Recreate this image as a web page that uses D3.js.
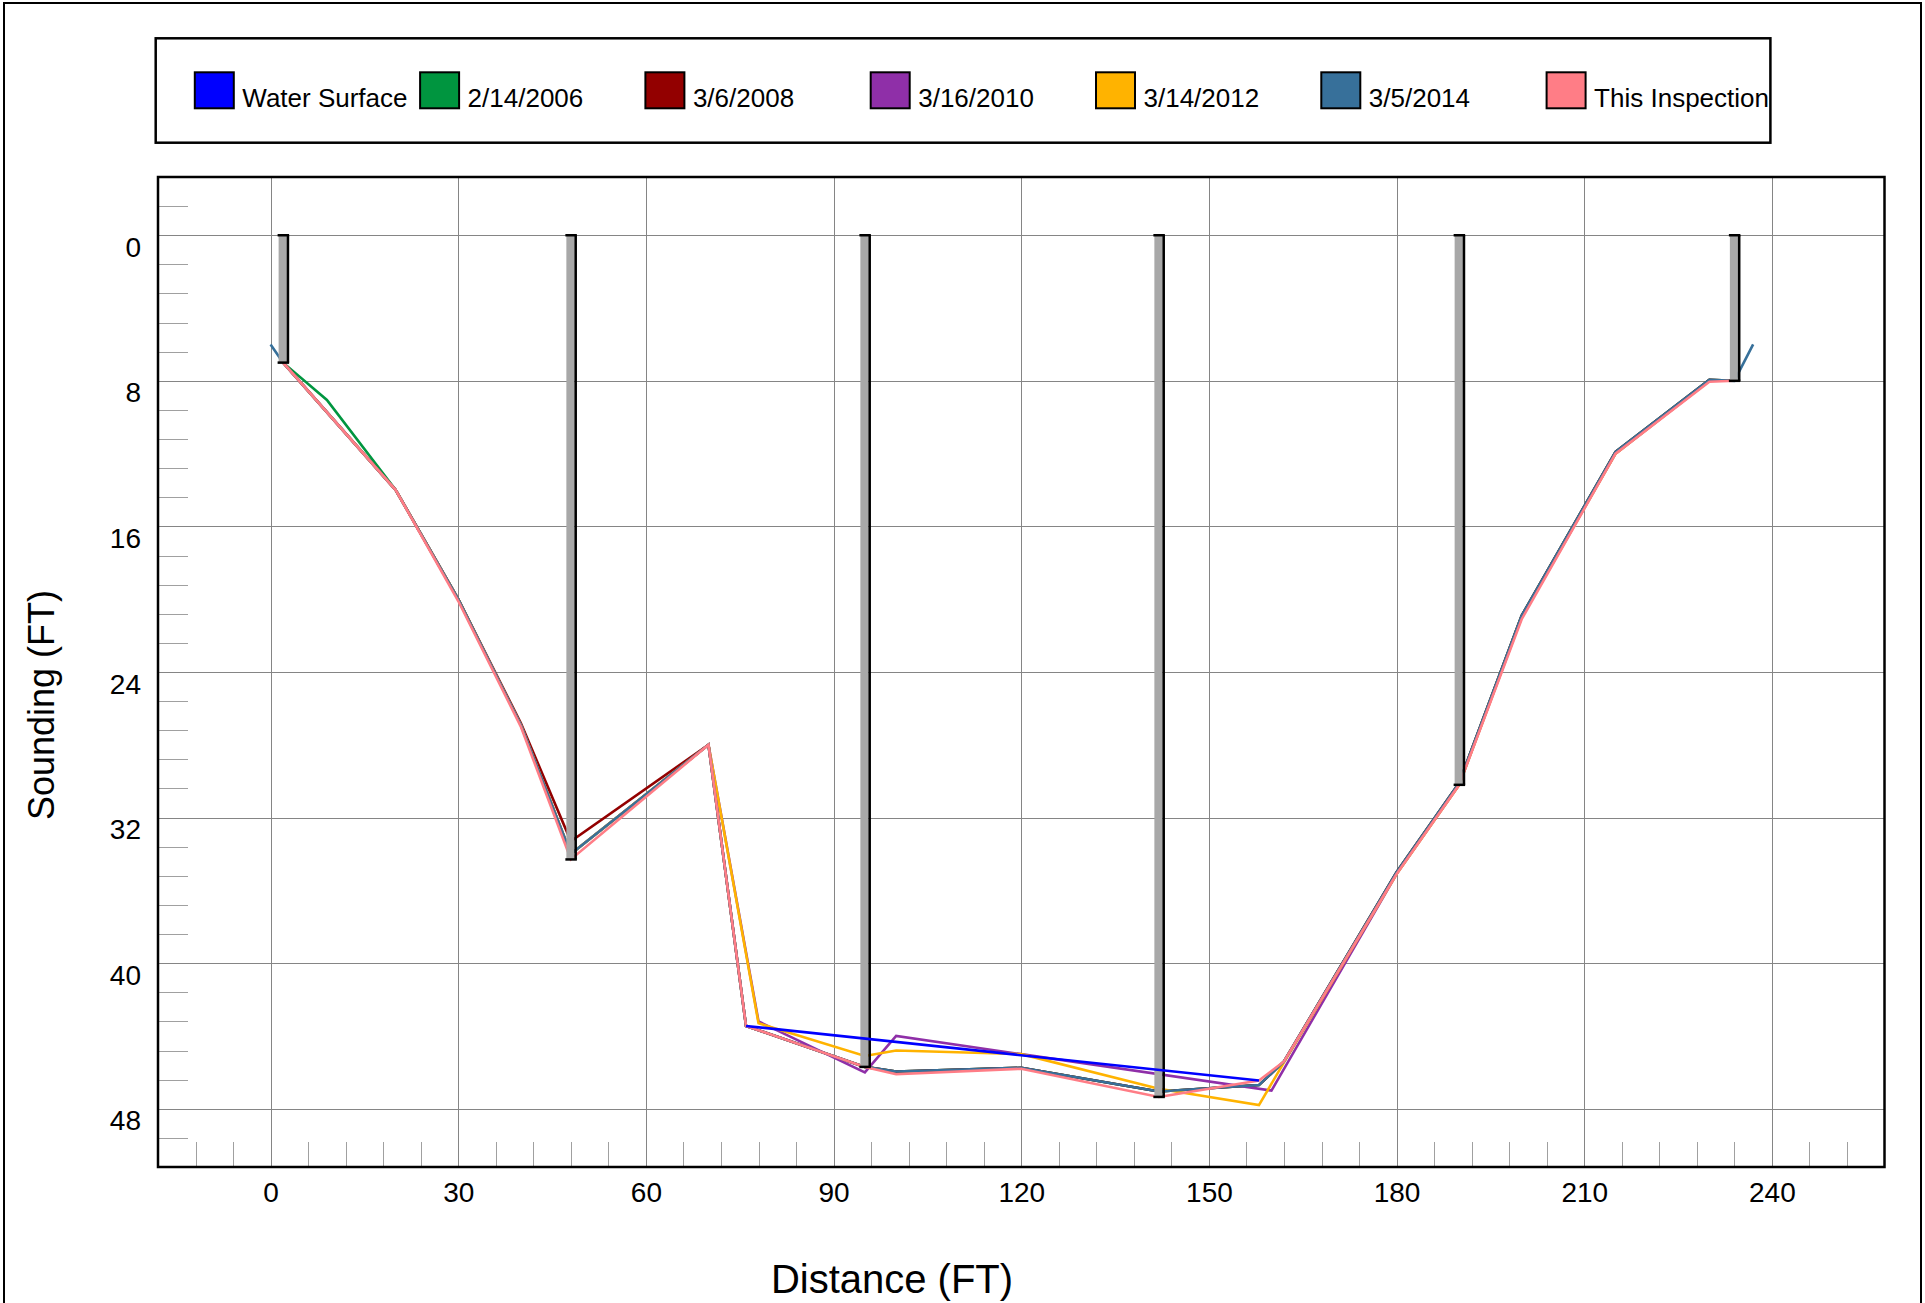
<!DOCTYPE html>
<html lang="en">
<head>
<meta charset="utf-8">
<title>Sounding cross section</title>
<script src="https://cdn.jsdelivr.net/npm/d3@7"></script>
<style>
body { margin: 0; background: #fff; }
svg { display: block; font-family: "Liberation Sans", Arial, sans-serif; }
.grid line { stroke: #858585; stroke-width: 1; shape-rendering: crispEdges; }
.grid path { display: none; }
.minor { stroke: #a0a0a0; stroke-width: 1; shape-rendering: crispEdges; }
.axis path, .axis line { display: none; }
.axis text { font-size: 28px; fill: #000; }
.sounding { fill: none; stroke-width: 2.6; }
.legend text { font-size: 26px; fill: #000; }
</style>
</head>
<body>
<script>
var w = 1925;
var h = 1303;
var plot = {left: 158, right: 1884.5, top: 177, bottom: 1167};

// legend / series
var legendLabels = ["Water Surface", "2/14/2006", "3/6/2008", "3/16/2010", "3/14/2012", "3/5/2014", "This Inspection"];
var colors = ["#0000ff", "#00953f", "#930000", "#8f2fa8", "#ffb300", "#37709a", "#ff7d86"];

// axis ticks
var xTicks = [0, 30, 60, 90, 120, 150, 180, 210, 240];
var yTicks = [0, 8, 16, 24, 32, 40, 48];

// piers: distance (ft) and bottom depth (ft)
var pierDistance = [2, 48, 95, 142, 190, 234];
var pierDepth = [7.0, 34.3, 45.7, 47.35, 30.2, 8.0];

// soundings [distance, depth]
var waterSurface = [[76, 43.45], [158, 46.45]];
var survey2006 = [[2, 7.0], [9, 9.05], [20, 14.0], [30, 20.0], [40, 26.9], [48, 34.0], [70, 28.0], [76, 43.45], [95, 45.7], [100, 45.95], [120, 45.75], [142, 47.05], [158, 46.7], [162, 45.4], [180, 35.0], [190, 30.1], [200, 20.9], [215, 11.9], [230, 7.95], [234, 8.0]];
var survey2008 = [[2, 7.0], [20, 14.0], [30, 20.0], [40, 26.8], [48, 33.3], [70, 28.0], [76, 43.45], [95, 45.7], [100, 45.95], [120, 45.75], [142, 47.05], [158, 46.7], [162, 45.4], [180, 35.0], [190, 30.1], [200, 20.9], [215, 11.9], [230, 7.95], [234, 8.0]];
var survey2010 = [[2, 7.0], [20, 14.0], [30, 20.0], [40, 26.9], [48, 34.0], [70, 28.0], [78, 43.2], [95, 46.0], [100, 44.0], [160, 47.0], [180, 35.1], [190, 30.2], [200, 21.0], [215, 12.0], [230, 8.0], [234, 8.0]];
var survey2012 = [[2, 7.0], [20, 14.0], [30, 20.0], [40, 26.9], [48, 34.0], [70, 28.0], [78, 43.3], [95, 45.1], [100, 44.8], [120, 45.0], [142, 46.9], [158, 47.8], [162, 45.45], [180, 35.1], [190, 30.2], [200, 21.0], [215, 12.0], [230, 8.0], [234, 8.0]];
var survey2014 = [[0, 6.0], [2, 7.0], [20, 14.0], [30, 20.0], [40, 26.9], [48, 34.0], [70, 28.0], [76, 43.45], [95, 45.7], [100, 45.95], [120, 45.75], [142, 47.05], [158, 46.7], [162, 45.4], [180, 35.0], [190, 30.1], [200, 20.9], [215, 11.9], [230, 7.95], [234, 8.0], [237, 6.0]];
var inspection = [[2, 7.0], [20, 14.0], [30, 20.1], [40, 27.0], [48, 34.3], [70, 28.0], [76, 43.45], [95, 45.7], [100, 46.1], [120, 45.8], [142, 47.35], [158, 46.45], [162, 45.4], [180, 35.1], [190, 30.2], [200, 21.1], [215, 12.0], [230, 8.05], [234, 8.0]];

var series = [waterSurface, survey2006, survey2008, survey2010, survey2012, survey2014, inspection];

var svg = d3.select("body").append("svg")
    .attr("width", w)
    .attr("height", h);

// outer frame
svg.append("rect")
    .attr("x", 4).attr("y", 3)
    .attr("width", w - 8).attr("height", h + 40)
    .attr("fill", "none").attr("stroke", "#000").attr("stroke-width", 2);

// scales
var xScale = d3.scaleLinear().domain([-18, 258]).range([plot.left, plot.right]);
var yScale = d3.scaleLinear().domain([-3.2, 51.2]).range([plot.top, plot.bottom]);

// grid
svg.append("g")
    .attr("class", "grid")
    .attr("transform", "translate(0," + plot.bottom + ")")
    .call(d3.axisBottom(xScale).tickValues(xTicks).tickSize(-(plot.bottom - plot.top)).tickFormat(""));
svg.append("g")
    .attr("class", "grid")
    .attr("transform", "translate(" + plot.left + ",0)")
    .call(d3.axisLeft(yScale).tickValues(yTicks).tickSize(-(plot.right - plot.left)).tickFormat(""));

// minor ticks
var xMinor = d3.range(-12, 258, 6).filter(function(d) { return d % 30 != 0; });
var yMinor = d3.range(-1.6, 51, 1.6).filter(function(d) { return Math.abs(d / 8 - Math.round(d / 8)) > 0.01; });

svg.selectAll(".xminor").data(xMinor).enter().append("line")
    .attr("class", "minor")
    .attr("x1", function(d) { return Math.round(xScale(d)) + 0.5; })
    .attr("x2", function(d) { return Math.round(xScale(d)) + 0.5; })
    .attr("y1", plot.bottom)
    .attr("y2", plot.bottom - 25);
svg.selectAll(".yminor").data(yMinor).enter().append("line")
    .attr("class", "minor")
    .attr("x1", plot.left)
    .attr("x2", plot.left + 30)
    .attr("y1", function(d) { return Math.round(yScale(d)) + 0.5; })
    .attr("y2", function(d) { return Math.round(yScale(d)) + 0.5; });

// sounding lines (oldest first, this inspection on top)
var line = d3.line()
    .x(function(d) { return xScale(d[0]); })
    .y(function(d) { return yScale(d[1]); });

for (var i = 1; i < series.length; i++) {
    svg.append("path")
        .datum(series[i])
        .attr("class", "sounding")
        .attr("stroke", colors[i])
        .attr("d", line);
}

// piers
var pier = svg.selectAll(".pier")
    .data(pierDistance)
    .enter()
    .append("g")
    .attr("class", "pier");

pier.append("rect")
    .attr("x", function(d) { return xScale(d) - 4.5; })
    .attr("y", yScale(0))
    .attr("width", 8)
    .attr("height", function(d, i) { return yScale(pierDepth[i]) - yScale(0); })
    .attr("fill", "#a8a8a8");
pier.append("line")
    .attr("x1", function(d) { return xScale(d) + 4.8; })
    .attr("x2", function(d) { return xScale(d) + 4.8; })
    .attr("y1", yScale(0))
    .attr("y2", function(d, i) { return yScale(pierDepth[i]); })
    .attr("stroke", "#000").attr("stroke-width", 2.6);
pier.append("line")
    .attr("x1", function(d) { return xScale(d) - 5.5; })
    .attr("x2", function(d) { return xScale(d) + 6; })
    .attr("y1", yScale(0))
    .attr("y2", yScale(0))
    .attr("stroke", "#000").attr("stroke-width", 2.5);
pier.append("line")
    .attr("x1", function(d) { return xScale(d) - 5.5; })
    .attr("x2", function(d) { return xScale(d) + 6; })
    .attr("y1", function(d, i) { return yScale(pierDepth[i]); })
    .attr("y2", function(d, i) { return yScale(pierDepth[i]); })
    .attr("stroke", "#000").attr("stroke-width", 2.5);

// water surface drawn over piers
svg.append("path")
    .datum(series[0])
    .attr("class", "sounding")
    .attr("stroke", colors[0])
    .attr("d", line);

// plot frame
svg.append("rect")
    .attr("x", plot.left).attr("y", plot.top)
    .attr("width", plot.right - plot.left).attr("height", plot.bottom - plot.top)
    .attr("fill", "none").attr("stroke", "#000").attr("stroke-width", 2.5);

// axis labels
var xAxis = svg.append("g")
    .attr("class", "axis")
    .attr("transform", "translate(0," + plot.bottom + ")")
    .call(d3.axisBottom(xScale).tickValues(xTicks).tickSize(0));
xAxis.selectAll("text").attr("dy", null).attr("y", 35);

var yAxis = svg.append("g")
    .attr("class", "axis")
    .attr("transform", "translate(" + plot.left + ",0)")
    .call(d3.axisLeft(yScale).tickValues(yTicks).tickSize(0).tickPadding(17));
yAxis.selectAll("text").attr("dy", null).attr("y", 21);

svg.append("text")
    .attr("x", 892).attr("y", 1293)
    .attr("text-anchor", "middle")
    .style("font-size", "40px")
    .text("Distance (FT)");

svg.append("text")
    .attr("transform", "translate(54,705) rotate(-90)")
    .attr("text-anchor", "middle")
    .style("font-size", "36px")
    .text("Sounding (FT)");

// legend
var legend = svg.append("g").attr("class", "legend");
legend.append("rect")
    .attr("x", 155.7).attr("y", 38.3)
    .attr("width", 1614.7).attr("height", 104.4)
    .attr("fill", "none").attr("stroke", "#000").attr("stroke-width", 2.5);

var item = legend.selectAll(".item")
    .data(legendLabels)
    .enter()
    .append("g")
    .attr("transform", function(d, i) { return "translate(" + (194.8 + i * 225.3) + ",72.3)"; });
item.append("rect")
    .attr("width", 39).attr("height", 36)
    .attr("fill", function(d, i) { return colors[i]; })
    .attr("stroke", "#000").attr("stroke-width", 2);
item.append("text")
    .attr("x", 47.5).attr("y", 35)
    .text(function(d) { return d; });
</script>
</body>
</html>
